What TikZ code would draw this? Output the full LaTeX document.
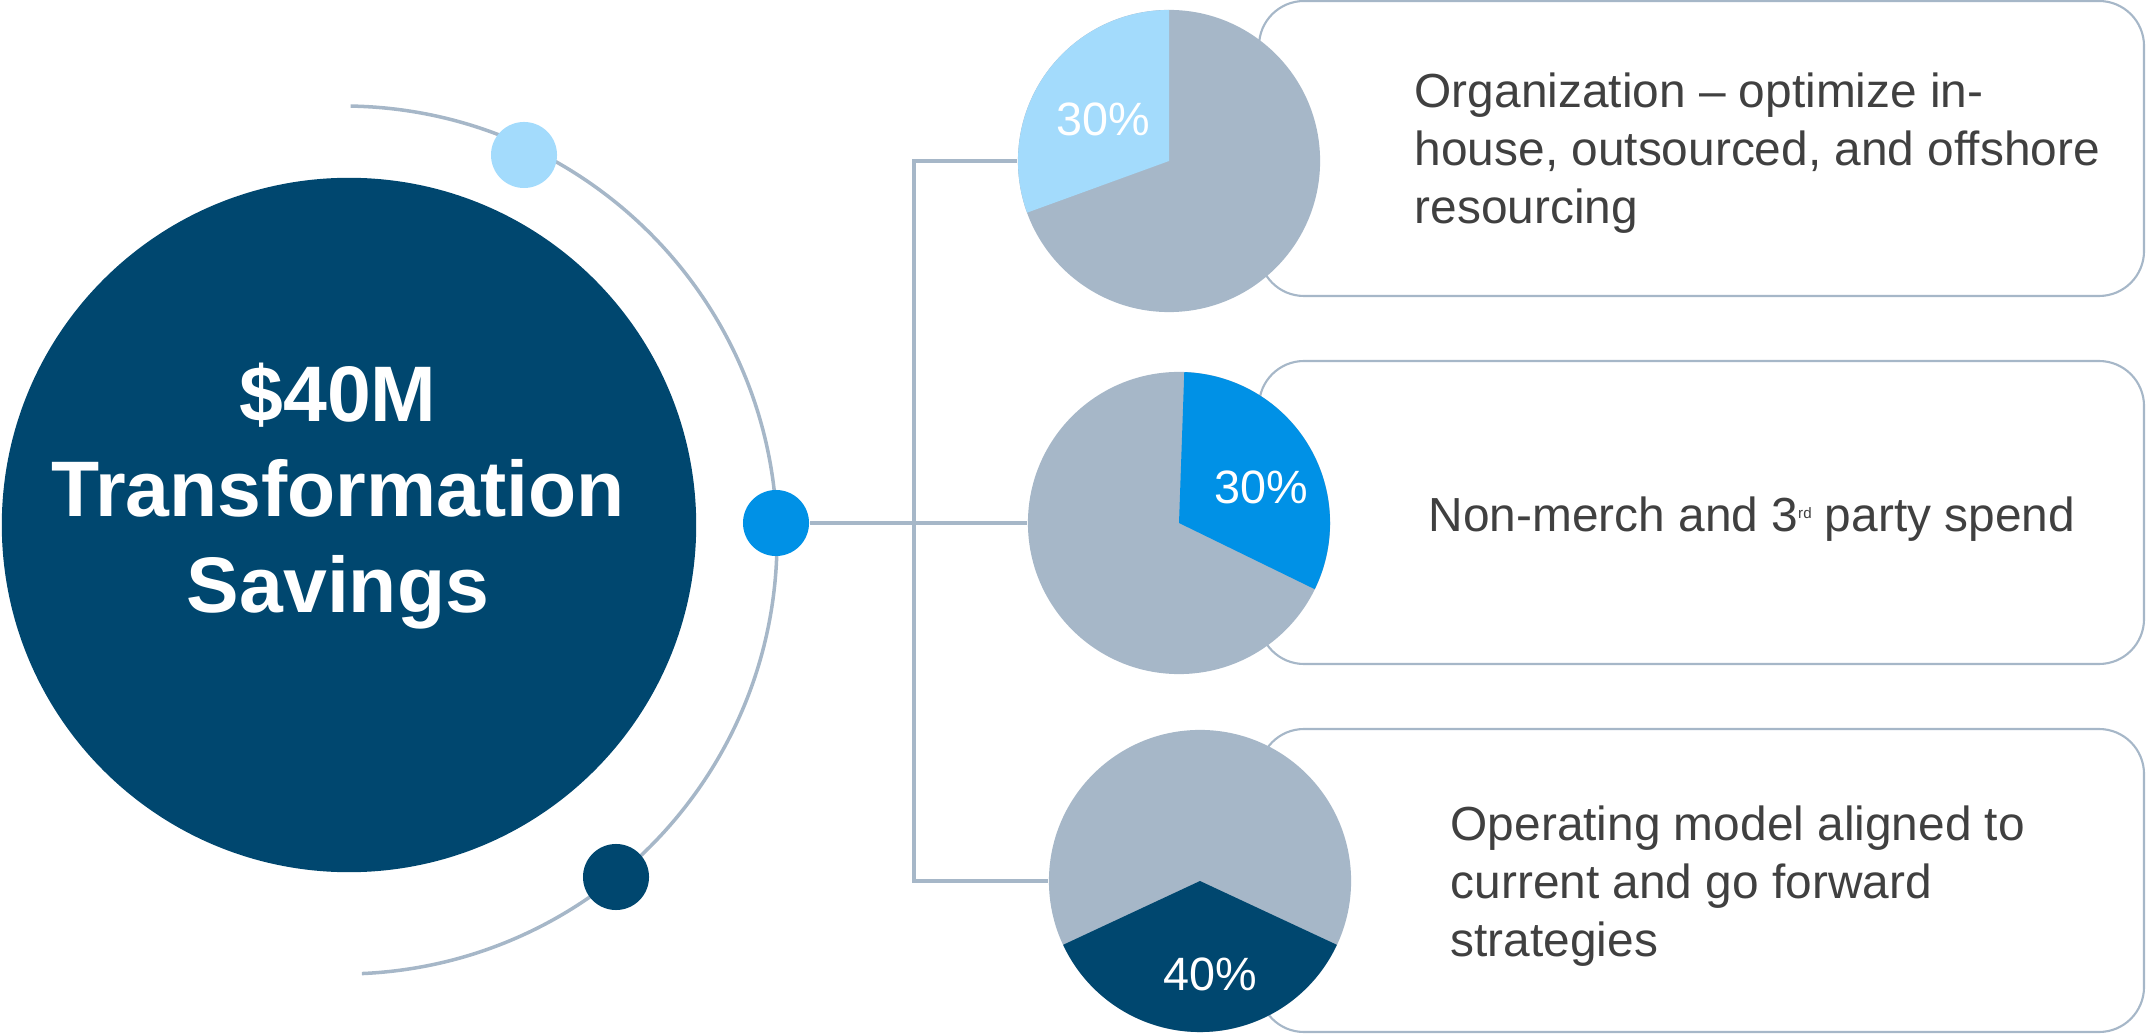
\documentclass[tikz,border=0pt]{standalone}
\usepackage{fontspec}
\setmainfont{Liberation Sans}
\definecolor{navy}{HTML}{00476F}
\definecolor{skyblue}{HTML}{A3DBFC}
\definecolor{midblue}{HTML}{0091E6}
\definecolor{slate}{HTML}{A6B7C8}
\definecolor{txtgray}{HTML}{404040}

\begin{document}
\begin{tikzpicture}[x=0.01cm, y=0.01cm,
  dot/.style={circle, minimum size=0.66cm, inner sep=0pt},
  pie/.style={circle, fill=slate, minimum size=3.02cm, inner sep=0pt},
  card/.style={draw=slate, line width=0.6pt, fill=white, rounded corners=0.45cm},
  link/.style={draw=slate, line width=1pt},
  note/.style={anchor=west, align=left, text=txtgray, inner sep=0pt,
    font=\fontsize{13.6}{16.4}\selectfont},
  pct/.style={text=white, inner sep=0pt, font=\fontsize{13.3}{15}\selectfont}]
\useasboundingbox (0,0) rectangle (2146,1033);

% orbit and the big circle
\draw [slate, line width=1pt] (343,493) ++(89:434) arc (89:-87.5:434);
\node [circle, fill=navy, minimum size=6.94cm, inner sep=0pt] (core) at (349,508) {};
\node [align=center, text=white, inner sep=0pt,
  font=\fontsize{22.4}{27.2}\selectfont\bfseries] (coretext) at (338,537)
  {\$40M\\Transformation\\Savings};

% dots on the orbit
\node [dot, fill=skyblue] (topdot) at (524,878) {};
\node [dot, fill=midblue] (hub) at (776,510) {};
\node [dot, fill=navy] (lowdot) at (616,156) {};

% cards
\draw [card] (1259,737) rectangle (2144,1032);
\draw [card] (1259,369) rectangle (2144,672);
\draw [card] (1259,1) rectangle (2144,304);

% pies
\node [pie] (org) at (1169,872) {};
\node [pie] (spend) at (1179,510) {};
\node [pie] (ops) at (1200,152) {};
\fill [skyblue] (org.center) -- ++(90:151) arc (90:200:151) -- cycle;
\fill [midblue] (spend.center) -- ++(88:151) arc (88:-26:151) -- cycle;
\fill [navy] (ops.center) -- ++(205:151) arc (205:335:151) -- cycle;

% connectors
\coordinate (fork) at (914,510);
\draw [link] (hub.east) -- (fork);
\draw [link] (org.west) -| (fork) |- (ops.west);
\draw [link] (fork) -- (spend.west);

% shares
\node [pct] (orgpct) at (1103,914) {30\%};
\node [pct] (spendpct) at (1261,546) {30\%};
\node [pct] (opspct) at (1210,59) {40\%};

% card texts
\node [note] (orgtext) at (1414,880)
  {Organization -- optimize in-\\house, outsourced, and offshore\\resourcing};
\node [note] (spendtext) at (1428,514)
  {Non-merch and 3\raisebox{3.7pt}{\fontsize{4.3}{5}\selectfont rd} party spend};
\node [note] (opstext) at (1450,147)
  {Operating model aligned to\\current and go forward\\strategies};
\end{tikzpicture}
\end{document}
